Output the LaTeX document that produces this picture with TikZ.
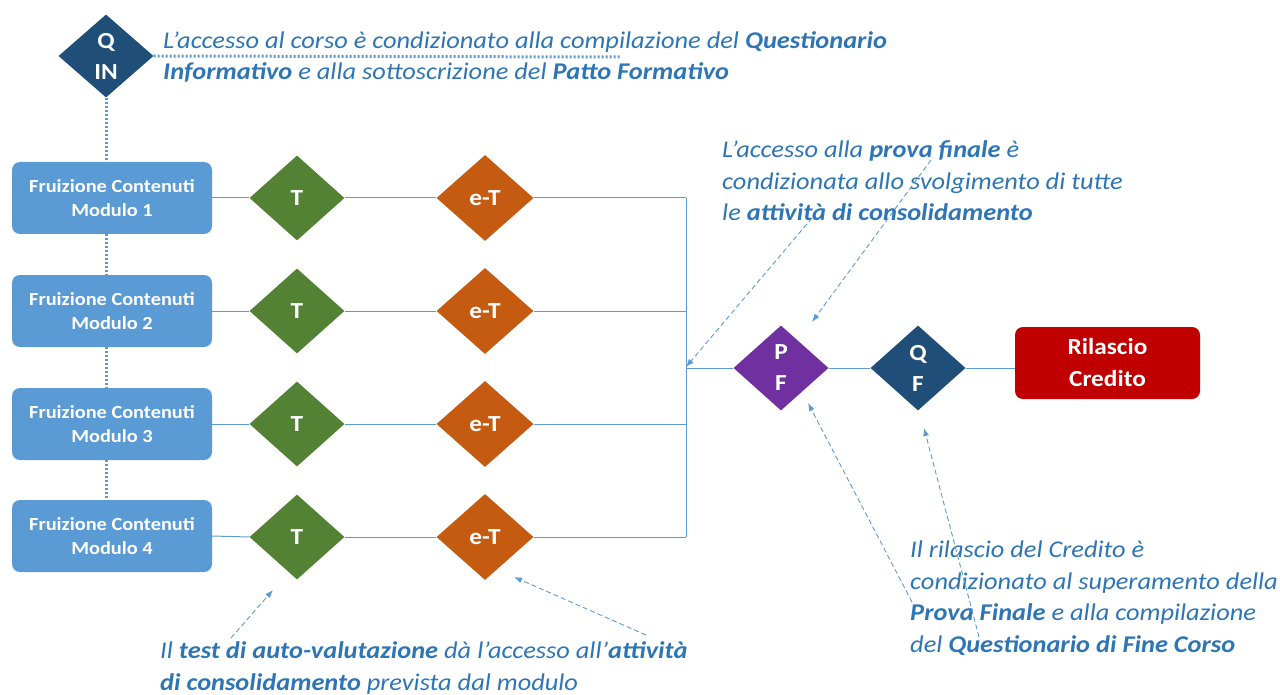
\documentclass[tikz,border=0pt]{standalone}
\usepackage{fontspec}
\setmainfont{Carlito}[FakeStretch=1.1]
\usetikzlibrary{shapes.geometric,arrows.meta}
\definecolor{boxblue}{HTML}{5B9BD5}
\definecolor{tgreen}{HTML}{548235}
\definecolor{etorange}{HTML}{C55A11}
\definecolor{qblue}{HTML}{1F4E79}
\definecolor{pfpurple}{HTML}{7030A0}
\definecolor{rred}{HTML}{C00000}
\definecolor{linecol}{HTML}{5B9BD5}
\definecolor{textblue}{HTML}{2E75B6}
\tikzset{
  modbox/.style={fill=boxblue, draw=none, rounded corners=8pt, minimum width=200pt, minimum height=72pt, text=white, font=\fontsize{18.5}{24}\selectfont\bfseries, align=center, inner sep=0pt},
  dia/.style={shape=diamond, draw=none, minimum width=95pt, minimum height=85pt, inner sep=0pt, text=white, font=\fontsize{23}{31}\selectfont\bfseries, align=center},
  conn/.style={draw=linecol, line width=1pt},
  dotconn/.style={draw=linecol, line width=3pt, dash pattern=on 2pt off 2pt},
  note/.style={text=textblue, font=\fontsize{24}{31.5}\selectfont\itshape, align=left, inner sep=0pt, anchor=west},
  callout/.style={draw=linecol, line width=0.9pt, dash pattern=on 5pt off 3pt, -{Latex[length=8pt,width=6pt]}}
}
\begin{document}
\begin{tikzpicture}[x=1pt,y=-1pt]
\useasboundingbox (0,0) rectangle (1280,695);
% modules
\node[modbox] (m1) at (112,198) {Fruizione Contenuti\\Modulo 1};
\node[modbox] (m2) at (112,311) {Fruizione Contenuti\\Modulo 2};
\node[modbox] (m3) at (112,424) {Fruizione Contenuti\\Modulo 3};
\node[modbox] (m4) at (112,536) {Fruizione Contenuti\\Modulo 4};
% QIN
\node[dia, fill=qblue, minimum width=95pt, minimum height=83pt] (qin) at (106,56) {Q\\IN};
% T and e-T
\foreach \i/\y in {1/198,2/311,3/424,4/537}{
  \node[dia, fill=tgreen] (t\i) at (297,\y) {T};
  \node[dia, fill=etorange, minimum width=97pt, minimum height=86pt] (e\i) at (485,\y) {e-T};
  \coordinate (b\i) at (686,\y);
}
\coordinate (bm) at (686,368);
\node[dia, fill=pfpurple] (pf) at (781,368) {P\\F};
\node[dia, fill=qblue] (qf) at (918,368) {Q\\F};
\node[fill=rred, rounded corners=8pt, minimum width=185pt, minimum height=72pt, inner sep=0pt, text=white, font=\fontsize{23}{32}\selectfont\bfseries, align=center] (rc) at (1107.5,363) {Rilascio\\Credito};
% connectors
\foreach \i in {1,2,3,4}{
  \draw[conn] (m\i.east) -- (t\i.west);
  \draw[conn] (t\i.east) -- (e\i.west);
  \draw[conn] (e\i.east) -- (b\i);
}
\draw[conn] (b1) -- (b4);
\draw[conn] (bm) -- (pf.west);
\draw[conn] (pf.east) -- (qf.west);
\draw[conn] (qf.east) -- (rc.west |- qf.east);
% dotted
\coordinate (qend) at (620,57);
\draw[dotconn] (qin.east) -- (qend);
\draw[dotconn] (qin.south) -- (m1.north -| qin.south);
\draw[dotconn] (m1.south -| qin.south) -- (m2.north -| qin.south);
\draw[dotconn] (m2.south -| qin.south) -- (m3.north -| qin.south);
\draw[dotconn] (m3.south -| qin.south) -- (m4.north -| qin.south);
% notes
\node[note] (n1) at (163,57) {L’accesso al corso è condizionato alla compilazione del \textbf{Questionario}\\\textbf{Informativo} e alla sottoscrizione del \textbf{Patto Formativo}};
\node[note] (n2) at (722,181) {L’accesso alla \textbf{prova finale} è\\condizionata allo svolgimento di tutte\\le \textbf{attività di consolidamento}};
\node[note] (n3) at (910,598) {Il rilascio del Credito è\\condizionato al superamento della\\\textbf{Prova Finale} e alla compilazione\\del \textbf{Questionario di Fine Corso}};
\node[note] (n4) at (160,668) {Il \textbf{test di auto-valutazione} dà l’accesso all’\textbf{attività}\\\textbf{di consolidamento} prevista dal modulo};
% callout arrows
\coordinate (a1s) at (812,218); \coordinate (a1e) at (686,367);
\coordinate (a2s) at (931,160); \coordinate (a2e) at (812,322);
\coordinate (a3s) at (231,638); \coordinate (a3e) at (273,590);
\coordinate (a4s) at (646,635); \coordinate (a4e) at (514,577);
\coordinate (a5s) at (979,637); \coordinate (a5e) at (924,428);
\coordinate (a6s) at (912,602); \coordinate (a6e) at (808,403);
\draw[callout] (a1s) -- (a1e);
\draw[callout] (a2s) -- (a2e);
\draw[callout] (a3s) -- (a3e);
\draw[callout] (a4s) -- (a4e);
\draw[callout] (a5s) -- (a5e);
\draw[callout] (a6s) -- (a6e);
\end{tikzpicture}
\end{document}
